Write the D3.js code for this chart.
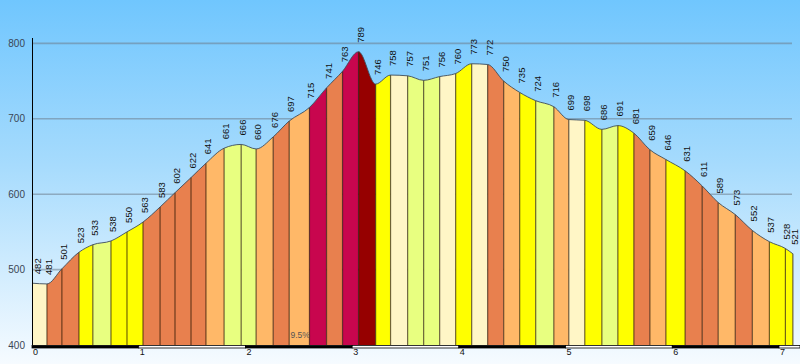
<!DOCTYPE html>
<html><head><meta charset="utf-8">
<script src="https://cdn.jsdelivr.net/npm/d3@7"></script>
<style>body{margin:0;background:#fff;} svg{display:block;}</style>
</head><body>
<svg id="chart" width="800" height="364"></svg>
<script>
// ---- data ----
const distances = [0, 0.14, 0.28, 0.44, 0.57, 0.74, 0.89, 1.04, 1.20, 1.34, 1.49, 1.63, 1.80, 1.96, 2.10, 2.26,
  2.41, 2.60, 2.76, 2.91, 3.06, 3.22, 3.36, 3.52, 3.67, 3.82, 3.97, 4.12, 4.27, 4.42, 4.57, 4.72,
  4.89, 5.03, 5.18, 5.34, 5.49, 5.64, 5.79, 5.94, 6.12, 6.28, 6.43, 6.59, 6.75, 6.91, 7.06, 7.13];
const elevations = [482, 481, 501, 523, 533, 538, 550, 563, 583, 602, 622, 641, 661, 666, 660, 676,
  697, 715, 741, 763, 789, 746, 758, 757, 751, 756, 760, 773, 772, 750, 735, 724,
  716, 699, 698, 686, 691, 681, 659, 646, 631, 611, 589, 573, 552, 537, 528, 521];
// gradient class of each segment (0 = flat ... 6 = steepest)
const gradeClass = [0, 4, 4, 2, 1, 2, 2, 4, 4, 4, 4, 3, 1, 1, 3, 4, 3, 5, 4, 5, 6, 2, 0, 1, 1, 0, 2, 0,
  4, 3, 2, 1, 3, 0, 2, 1, 2, 4, 3, 2, 4, 4, 3, 4, 3, 2, 2];
const yTicks = [400, 500, 600, 700, 800];
const xTicks = [0, 1, 2, 3, 4, 5, 6, 7];
const noteText = "9.5%";

// ---- styles ----
const gradeColors = ["#FFF6C6", "#E8FF80", "#FFFF00", "#FFB868", "#E8804E", "#C8064E", "#960000"];

const svg = d3.select("#chart");
const W = 800, H = 364;
const x = d3.scaleLinear().domain([0, 7]).range([32, 779]);
const y = d3.scaleLinear().domain([400, 800]).range([345, 43.4]);

const defs = svg.append("defs");
const bg = defs.append("linearGradient").attr("id", "bg").attr("x1", 0).attr("y1", 0).attr("x2", 0).attr("y2", 1);
bg.append("stop").attr("offset", "0%").attr("stop-color", "#70C6FE");
bg.append("stop").attr("offset", "45%").attr("stop-color", "#A6DBFD");
bg.append("stop").attr("offset", "100%").attr("stop-color", "#F6FBFF");
svg.append("rect").attr("width", W).attr("height", H).attr("fill", "url(#bg)");

// gridlines
svg.append("g").selectAll("line").data(yTicks.filter(t => t > 400)).join("line")
  .attr("x1", 32).attr("x2", 792)
  .attr("y1", d => y(d)).attr("y2", d => y(d))
  .attr("stroke", "rgba(110,125,140,0.55)").attr("stroke-width", 1.6);

const pts = distances.map((d, i) => ({d, e: elevations[i]}));
const area = d3.area().x(p => x(p.d)).y0(y(400)).y1(p => y(p.e)).curve(d3.curveMonotoneX);
const line = d3.line().x(p => x(p.d)).y(p => y(p.e)).curve(d3.curveMonotoneX);

const segs = gradeClass.map((c, i) => ({i, c, x0: x(distances[i]), x1: x(distances[i + 1])}));
defs.selectAll("clipPath").data(segs).join("clipPath")
  .attr("id", s => "seg" + s.i)
  .append("rect").attr("x", s => s.x0).attr("y", 0).attr("width", s => s.x1 - s.x0).attr("height", H);

svg.append("g").selectAll("path").data(segs).join("path")
  .attr("d", area(pts))
  .attr("clip-path", s => `url(#seg${s.i})`)
  .attr("fill", s => gradeColors[s.c]);

// boundary lines
svg.append("g").selectAll("line").data(pts.slice(1)).join("line")
  .attr("x1", p => x(p.d)).attr("x2", p => x(p.d))
  .attr("y1", p => y(p.e)).attr("y2", y(400))
  .attr("stroke", "rgba(40,20,0,0.65)").attr("stroke-width", 1.2);

// outline
svg.append("path").attr("d", line(pts)).attr("fill", "none")
  .attr("stroke", "#3d4c5a").attr("stroke-width", 0.9);

// elevation labels
svg.append("g").selectAll("text").data(pts).join("text")
  .attr("transform", (p, i) => {
    const px = Math.max(x(p.d), 32.5) + 5 + (i === 0 ? 3 : 0);
    return `translate(${px},${y(p.e) - 9}) rotate(-90)`;
  })
  .attr("font-family", "Liberation Sans, Arial, sans-serif").attr("font-size", 9.5)
  .attr("fill", "#111").text(p => p.e);

// y axis
svg.append("line").attr("x1", 32.5).attr("x2", 32.5).attr("y1", 38).attr("y2", 345)
  .attr("stroke", "#000").attr("stroke-width", 1);
svg.append("g").selectAll("text").data(yTicks).join("text")
  .attr("x", 25).attr("y", d => y(d) + 3.5).attr("text-anchor", "end")
  .attr("font-family", "Liberation Sans, Arial, sans-serif").attr("font-size", 10)
  .attr("fill", "#3a4654").text(d => d);

// x axis bar
const bands = xTicks.map((k, i) => ({k, x0: x(k), x1: i < xTicks.length - 1 ? x(xTicks[i + 1]) : 800, dark: i % 2 === 0 && i < xTicks.length - 1}));
svg.append("g").selectAll("rect").data(bands).join("rect")
  .attr("x", b => b.x0).attr("y", 345.5).attr("width", b => b.x1 - b.x0).attr("height", 2.5)
  .attr("fill", b => b.dark ? "#000" : "#fff")
  .attr("stroke", "#000").attr("stroke-width", 0.8);
svg.append("g").selectAll("text").data(xTicks).join("text")
  .attr("x", d => x(d) + 1).attr("y", 355).attr("text-anchor", "start")
  .attr("font-family", "Liberation Sans, Arial, sans-serif").attr("font-size", 9)
  .attr("fill", "#111").text(d => d);

// note
svg.append("text").attr("x", 290.5).attr("y", 338)
  .attr("font-family", "Liberation Sans, Arial, sans-serif").attr("font-size", 8.5)
  .attr("fill", "#555").text(noteText);
</script>
</body></html>
